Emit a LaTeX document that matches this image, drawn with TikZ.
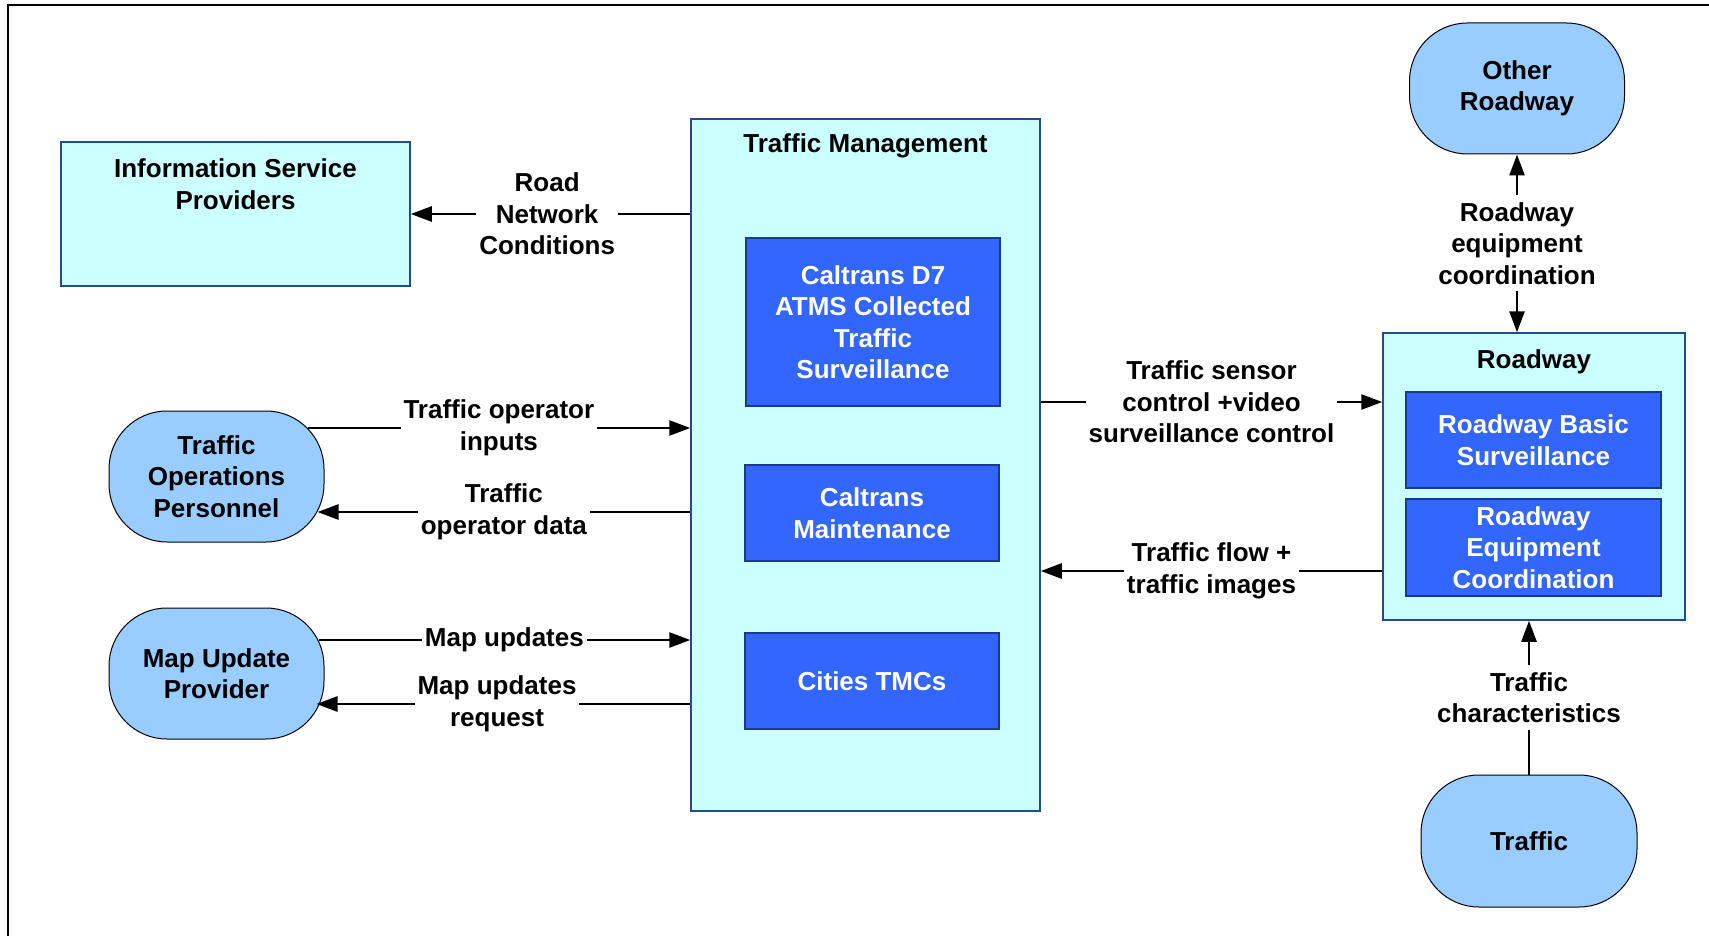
\documentclass[tikz,border=0pt]{standalone}
\usepackage{fontspec}
\setmainfont{Liberation Sans}
\usetikzlibrary{arrows.meta,calc}
\definecolor{cyanfill}{HTML}{CCFFFF}
\definecolor{boxedge}{HTML}{1F4E8C}
\definecolor{bluefill}{HTML}{3366FF}
\definecolor{blueedge}{HTML}{1A3A8A}
\definecolor{roundfill}{HTML}{99CCFF}
\begin{document}
\begin{tikzpicture}[x=1pt,y=-1pt,
  txt/.style={font=\fontsize{26}{31.5}\selectfont\bfseries, align=center, text=black, inner sep=0pt},
  cbox/.style={draw=boxedge, line width=1.5pt, fill=cyanfill, inner sep=0pt},
  bbox/.style={draw=blueedge, line width=1.5pt, fill=bluefill, inner sep=0pt, text=white,
    font=\fontsize{26}{31.5}\selectfont\bfseries, align=center},
  rnode/.style={draw=black, line width=1pt, fill=roundfill, rounded corners=58pt, inner sep=0pt,
    minimum width=215, minimum height=131, font=\fontsize{26}{31.5}\selectfont\bfseries, align=center},
  arr/.style={line width=2.6pt, -{Triangle[length=21pt,width=15pt]}},
  darr/.style={line width=2.6pt, {Triangle[length=21pt,width=15pt]}-{Triangle[length=21pt,width=15pt]}},
  lbl/.style={font=\fontsize{26}{31.5}\selectfont\bfseries, align=center, fill=white, inner xsep=3pt, inner ysep=7pt}
]
\useasboundingbox (0,0) rectangle (1709,936);
\fill[white] (0,0) rectangle (1709,936);
% frame
\draw[line width=2.5pt] (8,940) -- (8,5) -- (1712,5);

% boxes
\node[cbox, minimum width=349, minimum height=144] (isp) at (235.5,214) {};
\node[txt] (isptitle) at (235.5,184) {Information Service\\Providers};

\node[cbox, minimum width=349, minimum height=692] (tm) at (865.5,465) {};
\node[txt] (tmtitle) at (865.5,146) {Traffic Management};
\node[bbox, minimum width=254, minimum height=168] (d7) at (873,322) {Caltrans D7\\ATMS Collected\\Traffic\\Surveillance};
\node[bbox, minimum width=254, minimum height=96] (maint) at (872,513) {Caltrans\\Maintenance};
\node[bbox, minimum width=254, minimum height=96] (cities) at (872,681) {Cities TMCs};

\node[cbox, minimum width=302, minimum height=287] (rw) at (1534,476.5) {};
\node[txt] (rwtitle) at (1534,362) {Roadway};
\node[bbox, minimum width=255, minimum height=96] (rbs) at (1533.5,440) {Roadway Basic\\Surveillance};
\node[bbox, minimum width=255, minimum height=97] (rec) at (1533.5,547.5) {Roadway\\Equipment\\Coordination};

\node[rnode] (or) at (1517,88.5) {Other\\Roadway};
\node[rnode, minimum width=216, minimum height=132] (traffic) at (1529,841) {Traffic};
\node[rnode] (top) at (216.5,476.5) {Traffic\\Operations\\Personnel};
\node[rnode] (mup) at (216.5,673.5) {Map Update\\Provider};

% connectors
\draw[arr] (tm.west |- isp.east) -- node[lbl, pos=0.512] (l1) {Road\\Network\\Conditions} (isp.east);
\draw[arr] ($(top.east |- 0,428)+(-17,0)$) -- node[lbl] (l2) {Traffic operator\\inputs} (tm.west |- 0,428);
\draw[arr] (tm.west |- 0,512) -- node[lbl] (l3) {Traffic\\operator data} ($(top.east |- 0,512)+(-7,0)$);
\draw[arr] ($(mup.east |- 0,640)+(-6,0)$) -- node[lbl] (l4) {Map updates} (tm.west |- 0,640);
\draw[arr] (tm.west |- 0,704) -- node[lbl, pos=0.517] (l5) {Map updates\\request} ($(mup.east |- 0,704)+(-8,0)$);
\draw[arr] (tm.east |- 0,402) -- node[lbl] (l6) {Traffic sensor\\control +video\\surveillance control} (rw.west |- 0,402);
\draw[arr] (rw.west |- 0,571) -- node[lbl] (l7) {Traffic flow +\\traffic images} (tm.east |- 0,571);
\draw[darr] (or.south |- or.south) -- node[lbl] (l8) {Roadway\\equipment\\coordination} (or.south |- rw.north);
\draw[arr] (traffic.north) -- node[lbl] (l9) {Traffic\\characteristics} (traffic.north |- rw.south);
\end{tikzpicture}
\end{document}
